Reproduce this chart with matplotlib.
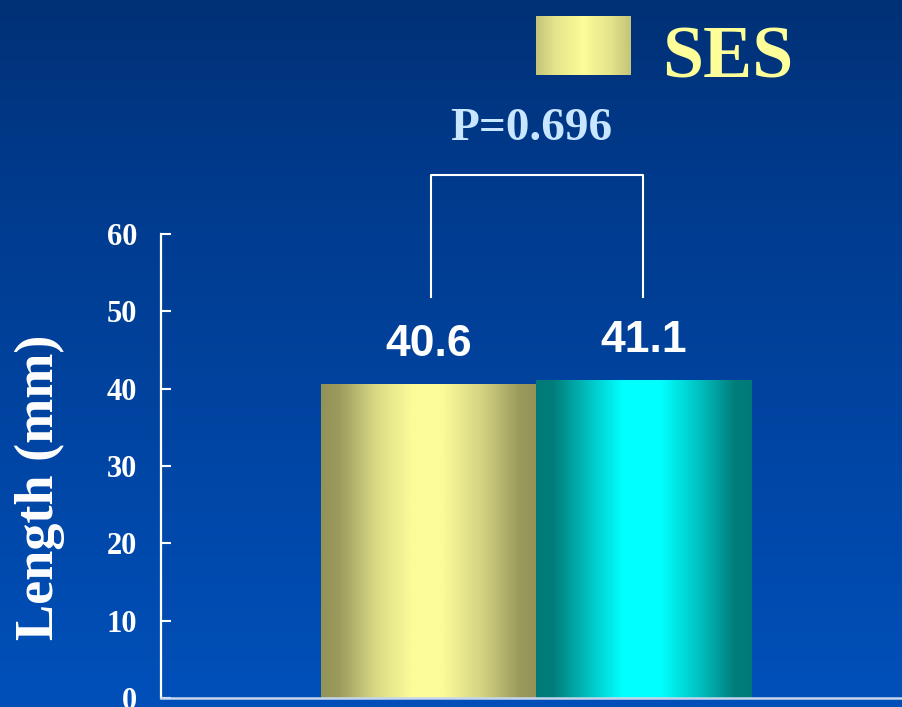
import numpy as np
import matplotlib
matplotlib.use("Agg")
import matplotlib.pyplot as plt
from matplotlib.colors import LinearSegmentedColormap

# Data
groups = ["SES", "Comparator"]
lengths = [40.6, 41.1]
p_label = "P=0.696"
y_ticks = [0, 10, 20, 30, 40, 50, 60]
legend_label = "SES"

W, H = 903, 707
fig = plt.figure(figsize=(W / 100, H / 100), dpi=100)

# Background vertical gradient (dark navy top -> brighter blue bottom)
bg = fig.add_axes([0, 0, 1, 1], zorder=-10)
bg_cmap = LinearSegmentedColormap.from_list(
    "bg", [(0.0, (0/255, 80/255, 186/255)), (0.75, (0/255, 58/255, 140/255)), (1.0, (0/255, 49/255, 118/255))])
bg.imshow(np.linspace(0, 1, 256).reshape(-1, 1)[::-1], aspect="auto", cmap=bg_cmap,
          extent=[0, 1, 0, 1], origin="upper")
bg.set_axis_off()

serif = ["Liberation Serif", "DejaVu Serif"]
sans = ["Liberation Sans", "DejaVu Sans"]

bottom_px, top_px, left_px = 698, 234, 161
ax = fig.add_axes([left_px / W, 1 - bottom_px / H, 1 - left_px / W, (bottom_px - top_px) / H])
ax.patch.set_alpha(0)

yellow_cmap = LinearSegmentedColormap.from_list(
    "gold", [(0.0, "#939358"), (0.08, "#9a9a5c"), (0.25, "#d8d884"), (0.42, "#fcfc99"),
             (0.56, "#fcfc99"), (0.75, "#d2d282"), (0.92, "#9a9a5c"), (1.0, "#939358")])
cyan_cmap = LinearSegmentedColormap.from_list(
    "teal", [(0.0, "#007a78"), (0.08, "#007e7c"), (0.25, "#00c4c4"), (0.40, "#00ffff"),
             (0.58, "#00ffff"), (0.76, "#00c0c0"), (0.92, "#007e7c"), (1.0, "#007a78")])
cmaps = [yellow_cmap, cyan_cmap]

xs = np.arange(len(lengths))
width = 1.0
grad = np.linspace(0, 1, 256).reshape(1, -1)
for x, v, cm in zip(xs, lengths, cmaps):
    ax.imshow(grad, cmap=cm, aspect="auto", extent=[x - width / 2, x + width / 2, 0, v],
              zorder=2, interpolation="bilinear")
    ax.text(x, v + 3.6, f"{v:.1f}", ha="center", va="baseline", color="white",
            fontsize=32, fontweight="bold", family=sans)

ax.set_xlim(-1.244, 2.207)
ax.set_ylim(0, 60)
ax.set_aspect("auto")

# Significance bracket
bx0, bx1 = xs[0] + 0.012, xs[1]
ax.plot([bx0, bx0, bx1, bx1], [51.9, 67.6, 67.6, 51.9], color="white", lw=1.5,
        clip_on=False, zorder=3)
ax.text((xs[0] + xs[1]) / 2 - 0.02, 72.1, p_label, ha="center", va="baseline",
        color="#c8e6ff", fontsize=34, fontweight="bold", family=serif)

# Axes styling
for s in ["top", "right"]:
    ax.spines[s].set_visible(False)
ax.spines["left"].set_color("white")
ax.spines["left"].set_linewidth(1.6)
ax.spines["bottom"].set_color("#c8d6ec")
ax.spines["bottom"].set_linewidth(1.8)
ax.set_xticks([])
ax.set_yticks(y_ticks)
ax.set_yticklabels([str(t) for t in y_ticks], family=serif, fontweight="bold",
                   fontsize=22, color="white")
ax.tick_params(axis="y", direction="in", length=7, width=1.5, color="white", pad=17)

# Y-axis title, placed in figure pixels
fig.text(40 / W, 1 - 487 / H, "Length (mm)", rotation=90, ha="center", va="center",
         family=serif, fontweight="bold", fontsize=39, color="white")

# Legend: gradient swatch plus label
sw = fig.add_axes([536 / W, 1 - 75 / H, (631 - 536) / W, (75 - 16) / H])
swatch_cmap = LinearSegmentedColormap.from_list(
    "sw", [(0.0, "#c4c47a"), (0.2, "#e4e48c"), (0.5, "#fcfc99"), (0.8, "#e2e28a"), (1.0, "#c4c47a")])
sw.imshow(grad, cmap=swatch_cmap, aspect="auto", interpolation="bilinear")
sw.set_axis_off()
fig.text(662 / W, 1 - 77 / H, legend_label, ha="left", va="baseline", color="#ffff99",
         fontsize=53, fontweight="bold", family=serif)

fig.savefig("out.png", dpi=100)
